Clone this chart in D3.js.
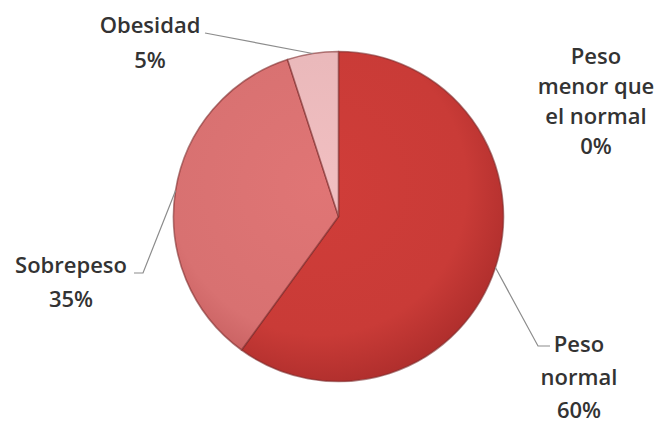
<!DOCTYPE html>
<html>
<head>
<meta charset="utf-8">
<script src="https://cdn.jsdelivr.net/npm/d3@7"></script>
<style>
  html, body { margin: 0; padding: 0; background: #ffffff; }
  svg { display: block; }
  text { font-family: "Open Sans", "Noto Sans", sans-serif; fill: #333333; }
</style>
</head>
<body>
<svg id="chart" width="657" height="423"></svg>
<script>
// Weight categories and their share (%)
const categories = ["Peso menor que el normal", "Peso normal", "Sobrepeso", "Obesidad"];
const values = [0, 60, 35, 5];
// Label lines shown for each category (name lines + percentage)
const labelLines = [
  ["Peso", "menor que", "el normal"],
  ["Peso", "normal"],
  ["Sobrepeso"],
  ["Obesidad"]
];
const sliceColors = ["#c0392f", "#c93b37", "#d87171", "#e9b8ba"];
const sliceEdges = ["#9c2c28", "#b12f2d", "#c45c5d", "#d9a2a5"];

const width = 657, height = 423;
const cx = 338.5, cy = 216.5, r = 165;

const svg = d3.select("#chart");
const defs = svg.append("defs");

// Soft radial shading, coordinates relative to the pie centre
sliceColors.forEach((c, i) => {
  const g = defs.append("radialGradient")
    .attr("id", "grad" + i)
    .attr("gradientUnits", "userSpaceOnUse")
    .attr("cx", -20).attr("cy", -30).attr("r", r * 1.2);
  g.append("stop").attr("offset", "0%").attr("stop-color", d3.color(c).brighter(0.1));
  g.append("stop").attr("offset", "75%").attr("stop-color", c);
  g.append("stop").attr("offset", "100%").attr("stop-color", sliceEdges[i]);
});

const data = categories.map((name, i) => ({ name, value: values[i], i }));
const pie = d3.pie().sort(null).value(d => d.value).startAngle(0).endAngle(2 * Math.PI);
const arcs = pie(data);

const arc = d3.arc().innerRadius(0).outerRadius(r);
const rim = d3.arc().innerRadius(r).outerRadius(r);

const g = svg.append("g").attr("transform", `translate(${cx},${cy})`);

g.selectAll("path.slice")
  .data(arcs.filter(a => a.data.value > 0))
  .join("path")
  .attr("class", "slice")
  .attr("d", arc)
  .attr("fill", d => `url(#grad${d.data.i})`)
  .attr("stroke", "#7d2b2b")
  .attr("stroke-opacity", 0.6)
  .attr("stroke-width", 1.6)
  .attr("stroke-linejoin", "round");

// Label anchors (text centre x, first baseline) and leader line elbows
const labelPos = {
  "Peso menor que el normal": { x: 596, y: 64, lh: 30, line: null },
  "Peso normal": { x: 579, y: 352, lh: 33, line: [[538, 346], [550, 346]] },
  "Sobrepeso": { x: 71, y: 273, lh: 34, line: [[143, 273], [134, 273]] },
  "Obesidad": { x: 150, y: 33, lh: 35, line: [[205, 33]] }
};

arcs.forEach(a => {
  const p = labelPos[a.data.name];
  if (p.line) {
    const mid = rim.centroid(a);
    const pts = [[cx + mid[0], cy + mid[1]], ...p.line];
    svg.append("path")
      .attr("d", d3.line()(pts))
      .attr("fill", "none")
      .attr("stroke", "#8c8c8c")
      .attr("stroke-width", 1.2);
  }
  const lines = labelLines[a.data.i].concat([d3.format(".0f")(a.data.value) + "%"]);
  const t = svg.append("text")
    .attr("text-anchor", "middle")
    .attr("font-size", 22)
    .attr("font-weight", 600);
  lines.forEach((s, k) => {
    t.append("tspan").attr("x", p.x).attr("y", p.y + k * p.lh).text(s);
  });
});
</script>
</body>
</html>
